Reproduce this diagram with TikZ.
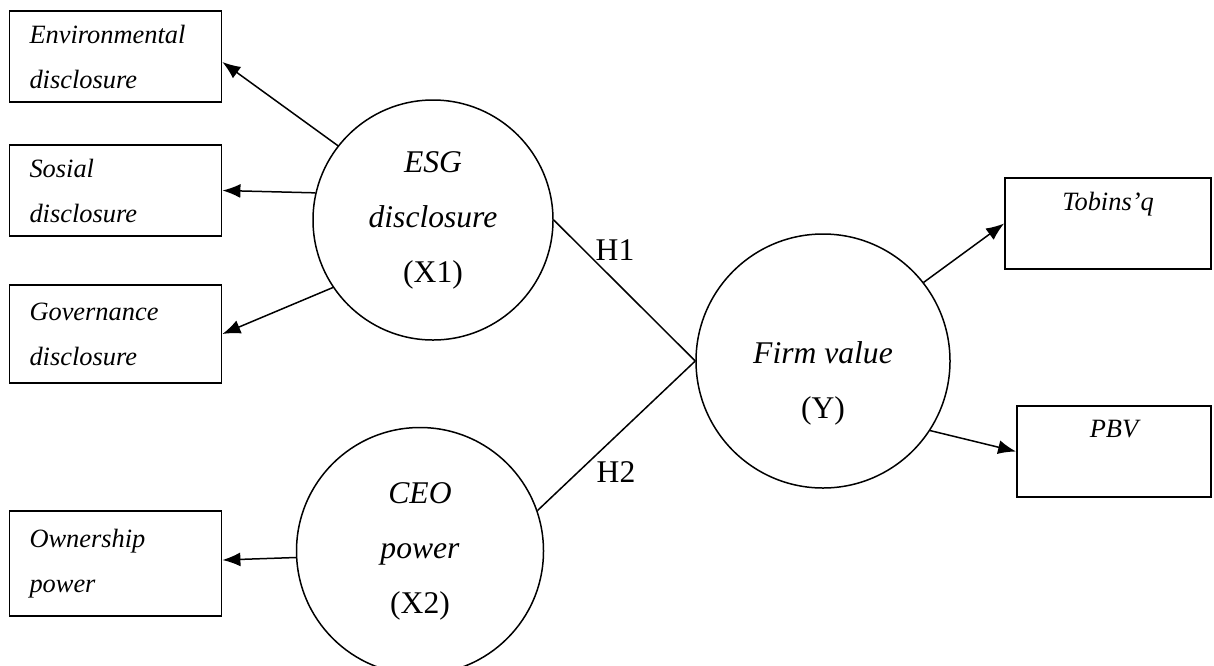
\documentclass[tikz,border=0pt]{standalone}
\usepackage{fontspec}
\setmainfont{Liberation Serif}
\usetikzlibrary{arrows.meta,calc,positioning}

\begin{document}
\begin{tikzpicture}[x=0.5pt,y=-0.5pt,
        indic/.style={draw,rectangle,line width=0.9pt,inner xsep=10pt,inner ysep=0pt,
            text width=86pt,align=left,minimum height=45.5pt,
            font=\fontsize{13.2}{22.5}\selectfont\itshape},
        latent/.style={draw,circle,line width=0.75pt,inner sep=0pt,align=center,
            font=\fontsize{15.8}{27.5}\selectfont},
        bigtxt/.style={align=center,inner sep=0pt,font=\fontsize{15.8}{27.5}\selectfont},
        link/.style={line width=0.75pt},
        loading/.style={link,-{Latex[length=9pt,width=7pt]}}]
        \useasboundingbox (0,0) rectangle (1214,665);
        %Draw indicators
        \node[indic] (env) at (115.5,56.5) {Environmental\\disclosure};
        \node[indic] (sos) at (115.5,190.5) {Sosial\\disclosure};
        \node[indic,minimum height=49pt] (gov) at (115.5,334) {Governance\\disclosure};
        \node[indic,minimum height=52.5pt] (own) at (115.5,563.5) {Ownership\\power};
        \node[indic,text width=83pt,align=center] (tq) at (1108,223.5) {Tobins'q\\\mbox{}};
        \node[indic,text width=77pt,align=center] (pbv) at (1114,451.5) {PBV\\\mbox{}};
        %Draw constructs
        \node[latent,minimum size=120pt] (esg) at (433,220) {\textit{ESG}\\\textit{disclosure}\\(X1)};
        \node[latent,minimum size=123.5pt] (ceo) at (420,551) {\textit{CEO}\\\textit{power}\\(X2)};
        \node[latent,minimum size=127pt] (firm) at (823,361) {};
        \node[bigtxt] (firmtxt) at (823,383) {\textit{Firm value}\\(Y)};
        %Draw labels
        \node[bigtxt] (h1) at (615,250) {H1};
        \node[bigtxt] (h2) at (616,472) {H2};
        %Draw lines
        \draw[loading] (esg.142) -- ([yshift=-2.75pt]env.east);
        \draw[loading] (esg.167) -- (sos.east);
        \draw[loading] (esg.214) -- (gov.east);
        \draw[loading] (ceo.183.5) -- ([yshift=1.75pt]own.east);
        \draw[link] (esg.east) -- (firm.west);
        \draw[link] (ceo.19) -- (firm.west);
        \draw[loading] (firm.38) -- (tq.west);
        \draw[loading] (firm.-33) -- (pbv.west);
\end{tikzpicture}
\end{document}
